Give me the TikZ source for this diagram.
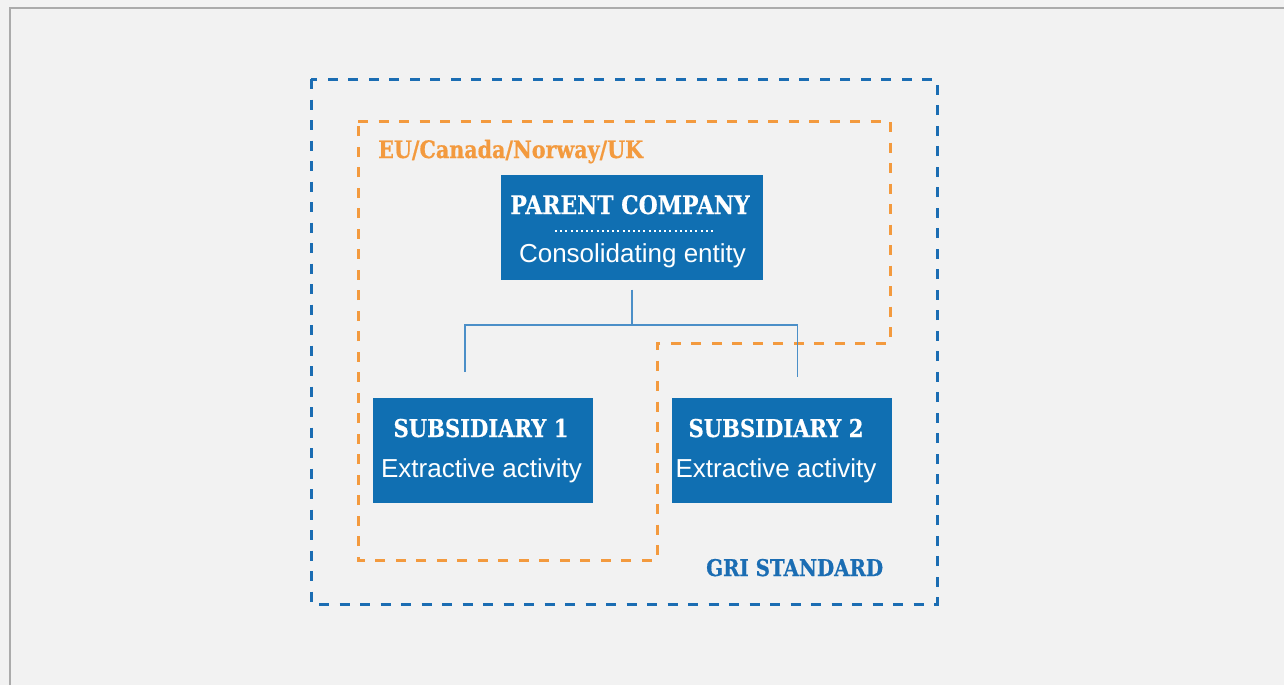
\documentclass[tikz,border=0pt]{standalone}
\usepackage{fontspec}
\setmainfont{Liberation Sans}
\newfontfamily\slabfont[FakeStretch=0.86, FakeBold=0.6]{DejaVu Serif}
\usetikzlibrary{positioning}
\definecolor{boxblue}{HTML}{106FB2}
\definecolor{griblue}{HTML}{1B6DB3}
\definecolor{euorange}{HTML}{F39A3E}
\definecolor{linkblue}{HTML}{4B8FC8}
\definecolor{paper}{HTML}{F2F2F2}
\definecolor{framegray}{HTML}{ABABAB}
\tikzset{box/.style = {fill=boxblue, inner sep = 0, minimum width = 220, minimum height = 105}}
\tikzset{head/.style = {text=white, anchor=base, inner sep = 0,
                        font=\slabfont\bfseries\fontsize{24.5}{28}\selectfont}}
\tikzset{note/.style = {text=white, anchor=base, inner sep = 0,
                        font=\fontsize{26}{30}\selectfont}}
\tikzset{tag/.style = {anchor=base west, inner sep = 0,
                       font=\slabfont\bfseries\fontsize{24}{28}\selectfont}}
\tikzset{region/.style = {line width = 3, dash pattern = on 10pt off 10.5pt}}
\tikzset{link/.style = {draw=linkblue, line width = 1.3}}

\begin{document}
\begin{tikzpicture}[x=1pt, y=-1pt]
    \fill [paper] (0, 0) rectangle (1284, 685);
    \useasboundingbox (0, 0) rectangle (1284, 685);
    \draw [framegray, line width = 2] (10, 685) -- (10, 8) -- (1284, 8);

    \draw [region, griblue] (311, 79) rectangle (937, 604);
    \draw [region, euorange] (358, 121) -- (890, 121) -- (890, 343) -- (657, 343)
        -- (657, 560) -- (358, 560) -- cycle;
    \node [tag, text=euorange] (eu) at (378, 158) {EU/Canada/Norway/UK};
    \node [tag, text=griblue, font=\slabfont\bfseries\fontsize{23}{27}\selectfont] (gri) at (706, 576) {GRI STANDARD};

    \node [box, minimum width = 262] (parent) at (632, 227.5) {};
    \node [head, font=\slabfont\bfseries\fontsize{25.5}{30}\selectfont] (parenthead) at (630, 214) {PARENT COMPANY};
    \draw [white, line width = 2, dash pattern = on 2pt off 3.2pt] (555, 231) -- (714, 231);
    \node [note] (parentnote) at (632.5, 262) {Consolidating entity};

    \node [box] (sub1) at (483, 450.5) {};
    \node [head] (sub1head) at (481, 437) {SUBSIDIARY 1};
    \node [note] (sub1note) at (481.5, 477) {Extractive activity};
    \node [box] (sub2) at (782, 450.5) {};
    \node [head] (sub2head) at (776, 437) {SUBSIDIARY 2};
    \node [note] (sub2note) at (776, 477) {Extractive activity};

    \coordinate (bus) at (632, 325);
    \coordinate (drop1) at (465, 372);
    \coordinate (drop2) at (797.5, 377);
    \draw [link, shorten <= 9.5] (parent.south) -- (bus);
    \draw [link] (drop1) |- (bus) -| (drop2);
\end{tikzpicture}
\end{document}
